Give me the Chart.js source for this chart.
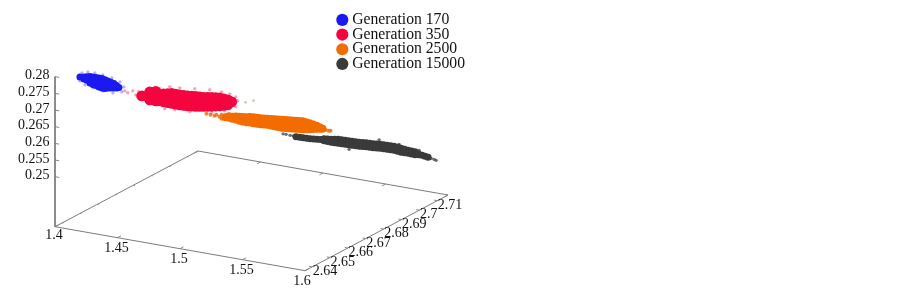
<!DOCTYPE html>
<html><head><meta charset="utf-8">
<style>html,body{margin:0;padding:0;background:#fff}canvas{display:block;filter:blur(0.45px)}</style>
<script src="https://cdn.jsdelivr.net/npm/chart.js@4"></script></head>
<body><canvas id="c" width="903" height="290"></canvas>
<script>
// tick labels
const xTicks=[1.4,1.45,1.5,1.55,1.6];
const yTicks=[2.64,2.65,2.66,2.67,2.68,2.69,2.7,2.71];
const zTicks=[0.25,0.255,0.26,0.265,0.27,0.275,0.28];
const zTickText=['0.25','0.255','0.26','0.265','0.27','0.275','0.28'];
// axis ranges
const xRange=[1.4,1.6], yRange=[2.636,2.716], zRange=[0.235,0.28];
// series: [x, z], one y per generation
const seriesNames=['Generation 170','Generation 350','Generation 2500','Generation 15000'];
const gen170Y=2.644, gen350Y=2.656, gen2500Y=2.676, gen15000Y=2.712;
const gen170=[[1.4085,.27822],[1.4117,.2784],[1.4117,.2778],[1.4165,.2789],[1.4165,.27815],[1.4165,.2774],[1.4165,.27695],[1.4213,.2789],[1.4213,.27801],[1.4213,.2771],[1.4213,.27651],[1.4261,.27893],[1.4261,.27788],[1.4261,.27683],[1.4261,.27608],[1.4309,.2785],[1.4309,.2776],[1.4309,.2767],[1.4309,.2764],[1.4357,.27807],[1.4357,.27747],[1.4357,.27687],[1.4357,.27672],[1.4397,.27713],
[1.4141,.27865],[1.4141,.2776],[1.4189,.2789],[1.4189,.27808],[1.4189,.27725],[1.4189,.27666],[1.4237,.27892],[1.4237,.27795],[1.4237,.27697],[1.4237,.27622],[1.4285,.27872],[1.4285,.27774],[1.4285,.27677],[1.4285,.27609],[1.4333,.27829],[1.4333,.27754],[1.4333,.27679],[1.4333,.27656],[1.4377,.27755],[1.4381,.27687]];
const gen170Edge=[[1.4077,.27847],[1.4101,.27953],[1.4149,.28014],[1.4205,.28021],[1.4269,.28003],[1.4341,.27961],[1.4405,.27883],[1.4437,.27754],[1.4421,.27594],[1.4349,.27516],[1.4269,.27523],[1.4189,.27561],[1.4125,.27609],[1.4085,.27702]];
const gen350=[[1.4408,.27128],[1.4456,.27144],[1.4472,.2729],[1.4472,.2705],[1.452,.27337],[1.452,.27217],[1.452,.27157],[1.452,.27097],[1.452,.27052],[1.4584,.27304],[1.4584,.27184],[1.4584,.27064],[1.4648,.27361],[1.4648,.27211],[1.4648,.27061],[1.4712,.27358],[1.4712,.27208],[1.4712,.27058],[1.4776,.27371],[1.4776,.27221],[1.4776,.27071],[1.484,.27398],[1.484,.27248],[1.484,.27098],[1.4904,.2741],[1.4904,.27275],[1.4904,.2714],[1.4968,.27453],[1.4968,.27318],[1.4968,.27183],[1.5032,.2748],[1.5032,.2736],[1.5032,.2724],[1.5096,.27462],[1.5096,.27387],[1.5096,.27312],[1.5128,.27423],
[1.4488,.2718],[1.4488,.2712],[1.4552,.2726],[1.4552,.2717],[1.4552,.2708],[1.4616,.27332],[1.4616,.27198],[1.4616,.27062],[1.468,.2736],[1.468,.2721],[1.468,.2706],[1.4744,.27365],[1.4744,.27215],[1.4744,.27065],[1.4808,.27385],[1.4808,.27235],[1.4808,.27085],[1.4872,.27404],[1.4872,.27262],[1.4872,.27119],[1.4936,.27432],[1.4936,.27297],[1.4936,.27162],[1.5,.27467],[1.5,.27339],[1.5,.27212],[1.5064,.27471],[1.5064,.27374],[1.5064,.27276],[1.5112,.27405]];
const gen350Edge=[[1.4296,.27144],[1.4336,.2723],[1.436,.27126],[1.4384,.27232],[1.44,.27123],[1.4416,.27223],[1.4376,.27077],[1.444,.27269],[1.4472,.2735],[1.4512,.27346],[1.4488,.26971],[1.4536,.26942],[1.4592,.26859],[1.4672,.26882],[1.4552,.27433],[1.4632,.27546],[1.4712,.27568],[1.4832,.27618],[1.4952,.27667],[1.5048,.2767],[1.5112,.27652],[1.516,.27594],[1.5176,.27485],[1.516,.27294],[1.5072,.27116],[1.4968,.26988],[1.4792,.26901],[1.4272,.27188]];
const gen2500=[[1.4792,.26174],[1.4848,.26226],[1.4848,.26166],[1.4904,.26263],[1.4904,.26203],[1.4904,.26143],[1.496,.26285],[1.496,.2621],[1.496,.26135],[1.5016,.26322],[1.5016,.26232],[1.5016,.26142],[1.5072,.26328],[1.5072,.26238],[1.5072,.26148],[1.5128,.26351],[1.5128,.26261],[1.5128,.26171],[1.5184,.26373],[1.5184,.26268],[1.5184,.26163],[1.524,.26394],[1.524,.26274],[1.524,.26154],[1.5296,.26416],[1.5296,.26296],[1.5296,.26176],[1.5352,.26438],[1.5352,.26318],[1.5352,.26198],[1.5408,.2646],[1.5408,.2634],[1.5408,.2622],[1.5464,.26437],[1.5464,.26347],[1.5464,.26257],[1.552,.26399],[1.552,.26309],[1.5568,.26341],
[1.482,.26216],[1.482,.26176],[1.4876,.26245],[1.4876,.26201],[1.4876,.26155],[1.4932,.26274],[1.4932,.26206],[1.4932,.26139],[1.4988,.26304],[1.4988,.26221],[1.4988,.26139],[1.5044,.26325],[1.5044,.26235],[1.5044,.26145],[1.51,.2634],[1.51,.2625],[1.51,.2616],[1.5156,.26362],[1.5156,.26265],[1.5156,.26167],[1.5212,.26384],[1.5212,.26271],[1.5212,.26159],[1.5268,.26405],[1.5268,.26285],[1.5268,.26165],[1.5324,.26427],[1.5324,.26307],[1.5324,.26187],[1.538,.26449],[1.538,.26329],[1.538,.26209],[1.5436,.26449],[1.5436,.26344],[1.5436,.26239],[1.5492,.26418],[1.5492,.2635],[1.5492,.26283],[1.5544,.2637],[1.5544,.26325]];
const gen2500Edge=[[1.464,.26178],[1.4672,.26169],[1.4704,.26161],[1.4744,.26157],[1.472,.26201],[1.476,.26228],[1.476,.26108],[1.5592,.26327],[1.5616,.26313],[1.5632,.26323]];
const gen2500Stray=[[1.4952,.26723],[1.5016,.26817]];
const gen15000=[[1.4842,.24594],[1.4898,.24601],[1.4954,.24607],[1.501,.24629],[1.5066,.24681],[1.5066,.24621],[1.5122,.24703],[1.5122,.24613],[1.5178,.2474],[1.5178,.2468],[1.5178,.2462],[1.5234,.24747],[1.5234,.24687],[1.5234,.24627],[1.529,.24754],[1.529,.24694],[1.529,.24634],[1.5346,.24761],[1.5346,.24701],[1.5346,.24641],[1.5402,.24783],[1.5402,.24723],[1.5402,.24663],[1.5458,.2479],[1.5458,.2473],[1.5458,.2467],[1.5514,.24812],[1.5514,.24752],[1.5514,.24692],[1.557,.24819],[1.557,.24759],[1.557,.24699],[1.5626,.24826],[1.5626,.24766],[1.5626,.24706],[1.5682,.24803],[1.5682,.24743],[1.5682,.24683],[1.5738,.2478],[1.5738,.24735],[1.5738,.2469],[1.5794,.24772],[1.5794,.24727],[1.5794,.24682],[1.585,.24704],[1.5898,.24676],
[1.487,.24598],[1.4926,.24604],[1.4982,.24618],[1.5038,.2464],[1.5094,.24692],[1.5094,.24617],[1.515,.24722],[1.515,.24669],[1.515,.24617],[1.5206,.24744],[1.5206,.24684],[1.5206,.24624],[1.5262,.24751],[1.5262,.24691],[1.5262,.24631],[1.5318,.24758],[1.5318,.24698],[1.5318,.24638],[1.5374,.24772],[1.5374,.24712],[1.5374,.24652],[1.543,.24787],[1.543,.24727],[1.543,.24667],[1.5486,.24801],[1.5486,.24741],[1.5486,.24681],[1.5542,.24816],[1.5542,.24756],[1.5542,.24696],[1.5598,.24823],[1.5598,.24763],[1.5598,.24703],[1.5654,.24815],[1.5654,.24755],[1.5654,.24695],[1.571,.24792],[1.571,.24739],[1.571,.24687],[1.5766,.24776],[1.5766,.24731],[1.5766,.24686],[1.5822,.24725],[1.5822,.247],[1.5874,.2469]];
const gen15000Edge=[[1.4738,.24615],[1.4762,.24616],[1.4794,.24607],[1.4818,.24608],[1.5922,.24662],[1.5946,.24648],[1.5962,.24628],[1.5506,.24942],[1.5666,.24913],[1.5266,.24499],[1.5826,.24838]];
const coreColors=['#1a1af0','#f5053f','#f26c00','#3a3a3a'];
const edgeColors=['rgba(60,60,240,.4)','rgba(225,40,90,.42)','rgba(235,110,20,.85)','rgba(60,60,60,.75)'];
const strayColor='rgba(190,160,130,.6)';

// view of the 3D box on the page
const origin=[55,226.7], xVec=[250,44], yVec=[143,-75.7], zVec=[0,-150];
function project(x,y,z){
  const a=(x-xRange[0])/(xRange[1]-xRange[0]), b=(y-yRange[0])/(yRange[1]-yRange[0]), c=(z-zRange[0])/(zRange[1]-zRange[0]);
  return {x:origin[0]+a*xVec[0]+b*yVec[0]+c*zVec[0], y:origin[1]+a*xVec[1]+b*yVec[1]+c*zVec[1]};
}
const gap={x:NaN,y:NaN};
const [x0,x1]=xRange,[y0,y1]=yRange,[z0,z1]=zRange;
const frame=[project(x0,y0,z1),project(x0,y0,z0),project(x1,y0,z0),project(x1,y1,z0),project(x0,y1,z0),project(x0,y0,z0)];
const tickPts=[];
xTicks.forEach(v=>{tickPts.push(project(v,y0,z0),project(v,y0+.002,z0),gap,project(v,y1,z0),project(v,y1-.002,z0),gap)});
yTicks.forEach(v=>{tickPts.push(project(x0,v,z0),project(x0+.001,v,z0),gap,project(x1,v,z0),project(x1-.0025,v,z0),gap)});
zTicks.forEach(v=>{tickPts.push(project(x0,y0,v),project(x0+.0034,y0,v),gap)});

function cloud(label,rows,y,color,r){
  return {label,data:rows.map(p=>project(p[0],y,p[1])),backgroundColor:color,borderWidth:0,pointStyle:'circle',pointRadius:r,pointBorderWidth:0,showLine:false,clip:false};
}
const ys=[gen170Y,gen350Y,gen2500Y,gen15000Y];
const datasets=[
 cloud(seriesNames[0],gen170,ys[0],coreColors[0],3.5),cloud('',gen170Edge,ys[0],edgeColors[0],1.6),
 cloud(seriesNames[1],gen350,ys[1],coreColors[1],5.4),cloud('',gen350Edge,ys[1],edgeColors[1],1.7),
 cloud(seriesNames[2],gen2500,ys[2],coreColors[2],4),cloud('',gen2500Edge,ys[2],edgeColors[2],2),cloud('',gen2500Stray,ys[2],strayColor,1.4),
 cloud(seriesNames[3],gen15000,ys[3],coreColors[3],3.5),cloud('',gen15000Edge,ys[3],edgeColors[3],1.7),
 {label:'',data:frame,showLine:true,borderColor:'#7c7c7c',borderWidth:1,pointRadius:0,clip:false},
 {label:'',data:tickPts,showLine:true,spanGaps:false,borderColor:'#8a8a8a',borderWidth:1,pointRadius:0,clip:false}
];
const FONT='"Liberation Serif"';
const placeLegend={id:'placeLegend',beforeDraw(c){c.legend.left=341.3;c.legend.top=13;c.legend.draw=function(){this._draw();};}};
const tickLabels={id:'tickLabels',afterDraw(c){
  const g=c.ctx,sx=c.scales.x,sy=c.scales.y;
  const put=(t,p,dx,dy,al)=>{g.textAlign=al;g.fillText(t,sx.getPixelForValue(p.x)+dx,sy.getPixelForValue(p.y)+dy);};
  g.save();g.fillStyle='#111';g.font='14px '+FONT;g.textBaseline='middle';
  zTicks.forEach((v,i)=>put(zTickText[i],project(x0,y0,v),-5.5,-1,'right'));
  xTicks.forEach((v,i)=>put(String(v),project(v,y0,z0),i==4?-3:-1,i==0?8.5:11,'center'));
  yTicks.forEach(v=>put(String(v),project(x1,v,z0),0.5,4.5,'left'));
  g.restore();
}};
new Chart(document.getElementById('c'),{type:'scatter',data:{datasets},plugins:[placeLegend,tickLabels],options:{
  responsive:false,animation:false,events:[],layout:{padding:0,autoPadding:false},
  scales:{x:{type:'linear',min:0,max:903,display:false},y:{type:'linear',min:0,max:290,reverse:true,display:false}},
  plugins:{tooltip:{enabled:false},title:{display:false},
    legend:{position:'chartArea',align:'start',labels:{usePointStyle:true,boxWidth:4,boxHeight:8.6,padding:-1,color:'#111',font:{family:FONT,size:15.7},
      filter:i=>i.text!==''}}}
}});
</script></body></html>
